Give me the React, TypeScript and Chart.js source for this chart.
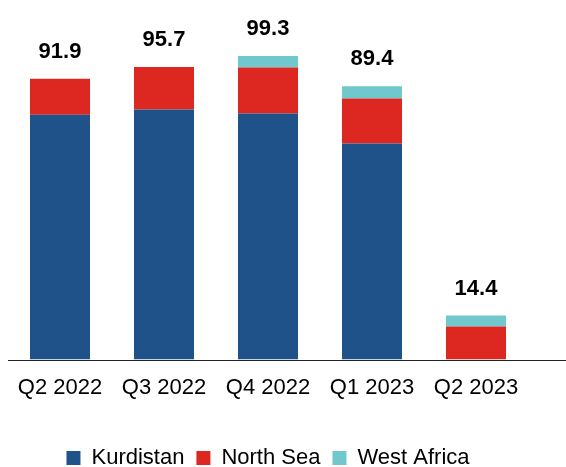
import React, { useEffect, useRef } from "react";
import { Chart, registerables } from "chart.js";

Chart.register(...registerables);

const categories = ["Q2 2022", "Q3 2022", "Q4 2022", "Q1 2023", "Q2 2023"];
const kurdistan = [80.1, 81.8, 80.5, 70.7, 0];
const northSea = [11.8, 13.9, 15.0, 14.7, 10.8];
const westAfrica = [0, 0, 3.8, 4.0, 3.6];

const FONT = "'Liberation Sans', Arial, sans-serif";

const totalsPlugin = {
  id: "totals",
  afterDatasetsDraw(chart: any) {
    const ctx = chart.ctx;
    const yScale = chart.scales.y;
    const xScale = chart.scales.x;
    ctx.save();
    ctx.font = `bold 22px ${FONT}`;
    ctx.fillStyle = "#000";
    ctx.textAlign = "center";
    ctx.textBaseline = "alphabetic";
    categories.forEach((_, i) => {
      const total = kurdistan[i] + northSea[i] + westAfrica[i];
      const x = xScale.getPixelForValue(i);
      const y = yScale.getPixelForValue(total);
      ctx.fillText(total.toFixed(1), x, y - 21);
    });
    ctx.restore();
  },
};

const axisLinePlugin = {
  id: "axisLine",
  afterDatasetsDraw(chart: any) {
    const ctx = chart.ctx;
    const { left, bottom } = chart.chartArea;
    ctx.save();
    ctx.strokeStyle = "#222";
    ctx.lineWidth = 1;
    ctx.beginPath();
    ctx.moveTo(left, Math.round(bottom) + 0.5);
    ctx.lineTo(chart.width, Math.round(bottom) + 0.5);
    ctx.stroke();
    ctx.restore();
  },
};

export default function App() {
  const ref = useRef<HTMLCanvasElement | null>(null);
  useEffect(() => {
    document.body.style.margin = "0";
    if (!ref.current) return;
    const chart = new Chart(ref.current, {
      type: "bar",
      data: {
        labels: categories,
        datasets: [
          { label: "Kurdistan", data: kurdistan, backgroundColor: "#1F5288" },
          { label: "North Sea", data: northSea, backgroundColor: "#DC2820" },
          { label: "West Africa", data: westAfrica, backgroundColor: "#70C8CD" },
        ],
      },
      options: {
        responsive: false,
        animation: false,
        layout: { padding: { left: 8, right: 38, top: 8, bottom: -12 } },
        datasets: {
          bar: { categoryPercentage: 1, barPercentage: 0.577 },
        },
        scales: {
          x: {
            stacked: true,
            grid: { display: false },
            border: { display: false },
            ticks: { color: "#000", font: { family: FONT, size: 22 }, padding: 7 },
            afterFit(scale: any) {
              scale.height += 27;
            },
          },
          y: {
            stacked: true,
            display: false,
            min: 0,
            max: 115,
          },
        },
        plugins: {
          legend: {
            position: "bottom",
            labels: {
              color: "#000",
              font: { family: FONT, size: 22 },
              boxWidth: 14,
              boxHeight: 14,
              padding: 12,
            },
          },
          tooltip: { enabled: false },
        },
      },
      plugins: [totalsPlugin, axisLinePlugin],
    });
    return () => chart.destroy();
  }, []);
  return (
    <div style={{ width: 566, height: 467 }}>
      <canvas ref={ref} width={566} height={467} style={{ display: "block" }} />
    </div>
  );
}
